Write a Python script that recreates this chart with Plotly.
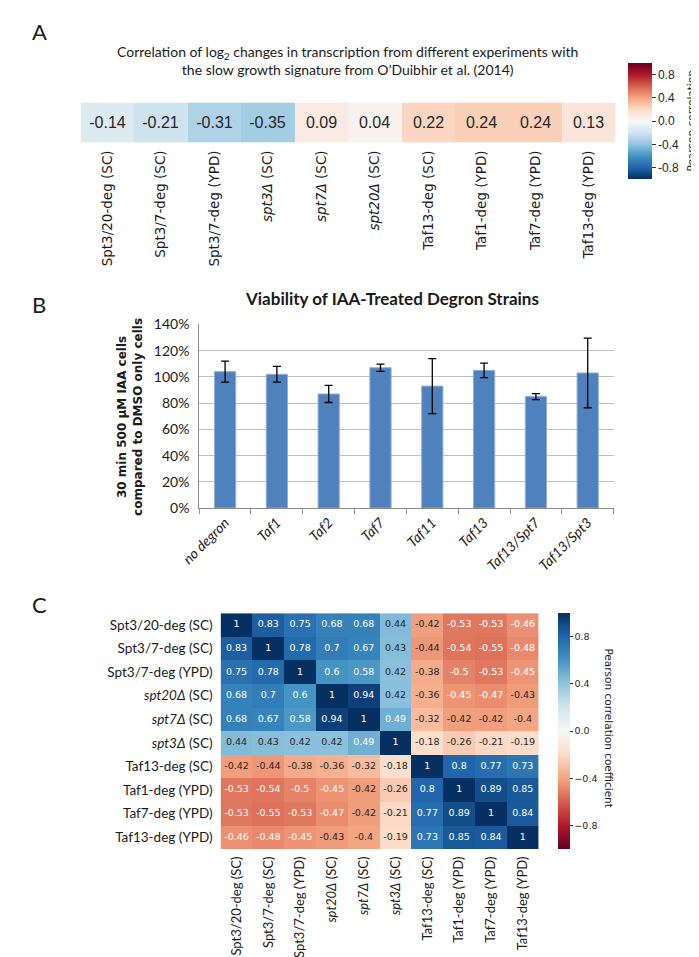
import plotly.graph_objects as go

W, H = 699, 957

# ---------------- Panel A data ----------------
a_keys = ["Spt3/20-deg (SC)", "Spt3/7-deg (SC)", "Spt3/7-deg (YPD)", "spt3Δ (SC)", "spt7Δ (SC)",
          "spt20Δ (SC)", "Taf13-deg (SC)", "Taf1-deg (YPD)", "Taf7-deg (YPD)", "Taf13-deg (YPD)"]
a_ticktext = ["Spt3/20-deg (SC)", "Spt3/7-deg (SC)", "Spt3/7-deg (YPD)", "<i>spt3Δ</i> (SC)", "<i>spt7Δ</i> (SC)",
              "<i>spt20Δ</i> (SC)", "Taf13-deg (SC)", "Taf1-deg (YPD)", "Taf7-deg (YPD)", "Taf13-deg (YPD)"]
a_values = [-0.14, -0.21, -0.31, -0.35, 0.09, 0.04, 0.22, 0.24, 0.24, 0.13]

# ---------------- Panel B data ----------------
b_cats = ["no degron", "Taf1", "Taf2", "Taf7", "Taf11", "Taf13", "Taf13/Spt7", "Taf13/Spt3"]
b_values = [1.04, 1.02, 0.87, 1.07, 0.93, 1.05, 0.85, 1.03]
b_errors = [0.08, 0.06, 0.065, 0.028, 0.21, 0.055, 0.023, 0.265]
b_ticks = [0, 0.2, 0.4, 0.6, 0.8, 1.0, 1.2, 1.4]

# ---------------- Panel C data ----------------
c_keys = ["Spt3/20-deg (SC)", "Spt3/7-deg (SC)", "Spt3/7-deg (YPD)", "spt20Δ (SC)", "spt7Δ (SC)",
          "spt3Δ (SC)", "Taf13-deg (SC)", "Taf1-deg (YPD)", "Taf7-deg (YPD)", "Taf13-deg (YPD)"]
c_ticktext = ["Spt3/20-deg (SC)", "Spt3/7-deg (SC)", "Spt3/7-deg (YPD)", "<i>spt20Δ</i> (SC)", "<i>spt7Δ</i> (SC)",
              "<i>spt3Δ</i> (SC)", "Taf13-deg (SC)", "Taf1-deg (YPD)", "Taf7-deg (YPD)", "Taf13-deg (YPD)"]
c_matrix = [
    [1, 0.83, 0.75, 0.68, 0.68, 0.44, -0.42, -0.53, -0.53, -0.46],
    [0.83, 1, 0.78, 0.7, 0.67, 0.43, -0.44, -0.54, -0.55, -0.48],
    [0.75, 0.78, 1, 0.6, 0.58, 0.42, -0.38, -0.5, -0.53, -0.45],
    [0.68, 0.7, 0.6, 1, 0.94, 0.42, -0.36, -0.45, -0.47, -0.43],
    [0.68, 0.67, 0.58, 0.94, 1, 0.49, -0.32, -0.42, -0.42, -0.4],
    [0.44, 0.43, 0.42, 0.42, 0.49, 1, -0.18, -0.26, -0.21, -0.19],
    [-0.42, -0.44, -0.38, -0.36, -0.32, -0.18, 1, 0.8, 0.77, 0.73],
    [-0.53, -0.54, -0.5, -0.45, -0.42, -0.26, 0.8, 1, 0.89, 0.85],
    [-0.53, -0.55, -0.53, -0.47, -0.42, -0.21, 0.77, 0.89, 1, 0.84],
    [-0.46, -0.48, -0.45, -0.43, -0.4, -0.19, 0.73, 0.85, 0.84, 1],
]
cbar_ticks = [-0.8, -0.4, 0.0, 0.4, 0.8]

# ---------------- helpers ----------------
def px_x(p):
    return p / W

def px_y(p):
    return 1 - p / H

RDBU = ['#67001f', '#b2182b', '#d6604d', '#f4a582', '#fddbc7', '#f7f7f7',
        '#d1e5f0', '#92c5de', '#4393c3', '#2166ac', '#053061']
cs_C = [[i / 10, c] for i, c in enumerate(RDBU)]
cs_A = [[i / 10, c] for i, c in enumerate(RDBU[::-1])]

def hex2rgb(h):
    return tuple(int(h[i:i + 2], 16) for i in (1, 3, 5))

def interp(cols, t):
    t = min(max(t, 0), 1) * (len(cols) - 1)
    i = min(int(t), len(cols) - 2)
    f = t - i
    a, b = hex2rgb(cols[i]), hex2rgb(cols[i + 1])
    return [a[k] + (b[k] - a[k]) * f for k in range(3)]

def lum(rgb):
    c = [v / 255 for v in rgb]
    c = [x / 12.92 if x <= 0.03928 else ((x + 0.055) / 1.055) ** 2.4 for x in c]
    return 0.2126 * c[0] + 0.7152 * c[1] + 0.0722 * c[2]

def fmt(v):
    return f"{v:.2g}"

DARK = '#262626'
NARROW = "Liberation Sans Narrow, Arial Narrow, Liberation Sans"
LABEL_FONT = "Lato, Open Sans, sans-serif"

fig = go.Figure()

# ---------------- Panel A heatmap ----------------
fig.add_trace(go.Heatmap(
    z=[a_values], x=a_keys, y=["r"], zmin=-1, zmax=1, colorscale=cs_A,
    text=[[f"{v:.2f}" for v in a_values]], texttemplate="%{text}",
    textfont=dict(family=NARROW, size=16, color=DARK),
    xaxis="x", yaxis="y", hoverinfo="skip",
    colorbar=dict(x=px_x(618), xanchor="left", xpad=0, ypad=0, y=px_y(106), yanchor="middle",
                  len=118 / H, lenmode="fraction", thickness=24, thicknessmode="pixels",
                  outlinewidth=0, ticks="outside", ticklen=4, tickcolor="#333",
                  tickvals=cbar_ticks, ticktext=["-0.8", "-0.4", "0.0", "0.4", "0.8"],
                  tickfont=dict(family=NARROW, size=12, color=DARK)),
))

# ---------------- Panel B bars ----------------
fig.add_trace(go.Bar(
    x=b_cats, y=b_values, xaxis="x2", yaxis="y2",
    marker=dict(color="#4f81bd", line=dict(color="#8fb0d9", width=1)),
    error_y=dict(type="data", array=b_errors, visible=True, color="#000000", thickness=1.3, width=4),
    hoverinfo="skip",
))

# ---------------- Panel C heatmap ----------------
fig.add_trace(go.Heatmap(
    z=c_matrix, x=c_keys, y=c_keys, zmin=-1, zmax=1, colorscale=cs_C,
    xaxis="x3", yaxis="y3", hoverinfo="skip",
    colorbar=dict(x=px_x(546), xanchor="left", xpad=0, ypad=0, y=px_y(727), yanchor="middle",
                  len=240 / H, lenmode="fraction", thickness=12, thicknessmode="pixels",
                  outlinewidth=0, ticks="outside", ticklen=3, tickcolor="#333",
                  tickvals=cbar_ticks, ticktext=["−0.8", "−0.4", "0.0", "0.4", "0.8"],
                  tickfont=dict(family="DejaVu Sans", size=9.5, color=DARK)),
))

# annotation text of panel C (colour by luminance of the cell, as seaborn does)
groups = {"w": ([], [], []), "d": ([], [], [])}
for i, rk in enumerate(c_keys):
    for j, ck in enumerate(c_keys):
        v = c_matrix[i][j]
        col = interp(RDBU, (v + 1) / 2)
        g = "d" if lum(col) > 0.408 else "w"
        groups[g][0].append(ck)
        groups[g][1].append(rk)
        groups[g][2].append(fmt(v))
for g, color in (("w", "#ffffff"), ("d", DARK)):
    xs, ys, ts = groups[g]
    fig.add_trace(go.Scatter(
        x=xs, y=ys, text=ts, mode="text", xaxis="x3", yaxis="y3",
        textfont=dict(family="DejaVu Sans", size=9.5, color=color),
        hoverinfo="skip", showlegend=False,
    ))

# ---------------- layout ----------------
fig.update_layout(
    width=W, height=H, margin=dict(l=0, r=0, t=0, b=0),
    paper_bgcolor="white", plot_bgcolor="white", showlegend=False,
    xaxis=dict(domain=[px_x(55), px_x(605)], anchor="y", tickmode="array", tickvals=a_keys, ticktext=a_ticktext,
               tickangle=-90, showgrid=False, zeroline=False, ticks="", ticklabelstandoff=4,
               tickfont=dict(family="DejaVu Sans", size=13.5, color="#1a1a1a")),
    yaxis=dict(domain=[px_y(128), px_y(87)], anchor="x", showticklabels=False, showgrid=False, zeroline=False),
    xaxis2=dict(domain=[px_x(177), px_x(603)], anchor="y2", tickangle=-45, showgrid=False, zeroline=False,
                showline=True, linecolor="#8c8c8c", linewidth=1, ticks="outside", tickson="boundaries",
                ticklen=5, tickcolor="#8c8c8c",
                tickfont=dict(family=LABEL_FONT, size=14, color="#1a1a1a", style="italic")),
    yaxis2=dict(domain=[px_y(500), px_y(313)], anchor="x2", range=[0, 1.4], tickmode="array", tickvals=b_ticks,
                tickformat=".0%", showgrid=True, gridcolor="#bfbfbf", gridwidth=1, zeroline=False,
                showline=True, linecolor="#8c8c8c", linewidth=1, ticks="", ticklabelstandoff=6,
                tickfont=dict(family=LABEL_FONT, size=14, color="#1a1a1a")),
    bargap=0.59,
    xaxis3=dict(domain=[px_x(199), px_x(526)], anchor="y3", tickmode="array", tickvals=c_keys, ticktext=c_ticktext,
                tickangle=-90, showgrid=False, zeroline=False, ticks="", ticklabelstandoff=4,
                tickfont=dict(family=LABEL_FONT, size=13, color="#1a1a1a")),
    yaxis3=dict(domain=[px_y(847), px_y(607)], anchor="x3", tickmode="array", tickvals=c_keys, ticktext=c_ticktext,
                autorange="reversed", showgrid=False, zeroline=False, ticks="", ticklabelstandoff=7,
                tickfont=dict(family=LABEL_FONT, size=13.5, color="#1a1a1a")),
)

ann = [
    dict(text="A", x=px_x(3), y=px_y(15), xanchor="left", yanchor="middle",
         font=dict(family=LABEL_FONT, size=22, color="#1a1a1a")),
    dict(text="B", x=px_x(3), y=px_y(293), xanchor="left", yanchor="middle",
         font=dict(family=LABEL_FONT, size=22, color="#1a1a1a")),
    dict(text="C", x=px_x(3), y=px_y(598), xanchor="left", yanchor="middle",
         font=dict(family=LABEL_FONT, size=22, color="#1a1a1a")),
    dict(text="Correlation of log<sub>2</sub> changes in transcription from different experiments with<br>"
              "the slow growth signature from O’Duibhir et al. (2014)",
         x=px_x(329), y=px_y(44), xanchor="center", yanchor="middle", align="center",
         font=dict(family=LABEL_FONT, size=14, color="#1a1a1a")),
    dict(text="<b>Viability of IAA-Treated Degron Strains</b>", x=px_x(375), y=px_y(287),
         xanchor="center", yanchor="middle", font=dict(family=LABEL_FONT, size=17, color="#1a1a1a")),
    dict(text="<b>30 min 500 µM IAA cells<br>compared to DMSO only cells</b>", x=px_x(106), y=px_y(407),
         xanchor="center", yanchor="middle", textangle=-90, align="center",
         font=dict(family="DejaVu Sans", size=12, color="#1a1a1a")),
    dict(text="Pearson correlation", x=px_x(683), y=px_y(106), xanchor="center", yanchor="middle",
         textangle=-90, font=dict(family="DejaVu Sans", size=10.5, color="#1a1a1a")),
    dict(text="Pearson correlation coefficient", x=px_x(598), y=px_y(724), xanchor="center", yanchor="middle",
         textangle=90, font=dict(family="DejaVu Sans", size=10.5, color="#1a1a1a")),
]
for a in ann:
    a.update(xref="paper", yref="paper", showarrow=False)
fig.update_layout(annotations=ann)

fig.write_html("out.html")
